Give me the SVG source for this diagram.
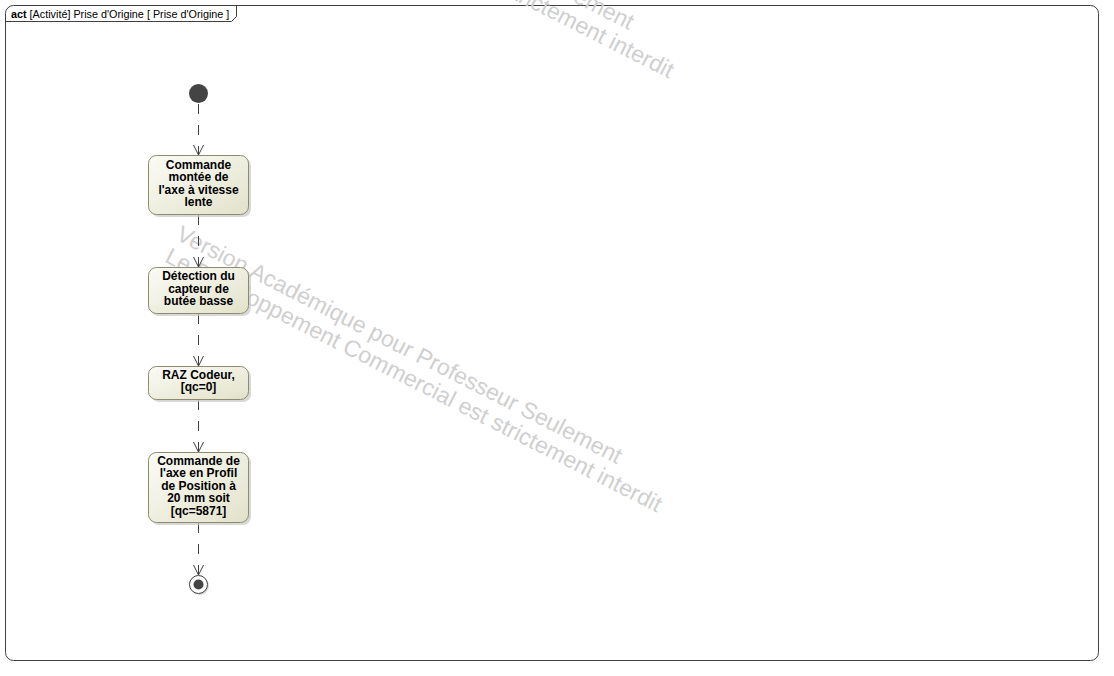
<svg xmlns="http://www.w3.org/2000/svg" width="1114" height="676" viewBox="0 0 1114 676">
<style>
  .frame{fill:#ffffff;stroke:#404040;stroke-width:1}
  .tabtxt{font-family:"Liberation Sans",Arial,sans-serif;font-size:10.8px;fill:#000}
  .wm{font-family:"Liberation Sans",Arial,sans-serif;font-size:23px;fill:#cfcfcf}
  .box{fill:url(#g);stroke:#8c8c6c;stroke-width:1}
  .shadow{fill:#c8c8c8;opacity:0.7}
  .lbl{font-family:"Liberation Sans",Arial,sans-serif;font-size:12px;font-weight:bold;fill:#000;text-anchor:middle}
  .edge{fill:none;stroke:#404040;stroke-width:1;stroke-dasharray:10 11}
</style>
<defs>
  <linearGradient id="g" x1="0" y1="0" x2="1" y2="1">
    <stop offset="0" stop-color="#fbfbf6"/>
    <stop offset="1" stop-color="#e2e2ca"/>
  </linearGradient>
  <marker id="arr" markerWidth="12" markerHeight="12" refX="10" refY="5" orient="auto" markerUnits="userSpaceOnUse">
    <path d="M0,0 L10,5 L0,10" fill="none" stroke="#404040" stroke-width="1"/>
  </marker>
</defs>
<rect x="0" y="0" width="1114" height="676" fill="#ffffff"/>
<rect class="frame" x="5.5" y="5.5" width="1093" height="655" rx="8" ry="8"/>
<path d="M5.5,21.5 L231.5,21.5 L236.5,16.5 L236.5,5.5" fill="none" stroke="#404040"/>
<text class="tabtxt" x="11" y="18"><tspan font-weight="bold">act</tspan> [Activité] Prise d'Origine [ Prise d'Origine ]</text>

<g id="watermark">
  <g transform="translate(175,239) rotate(27)">
    <text class="wm" x="0" y="0">Version Académique pour Professeur Seulement</text>
    <text class="wm" x="0" y="25">Le Développement Commercial est strictement interdit</text>
  </g>
  <g transform="translate(187,-195) rotate(27)">
    <text class="wm" x="0" y="0">Version Académique pour Professeur Seulement</text>
    <text class="wm" x="0" y="25">Le Développement Commercial est strictement interdit</text>
  </g>
</g>

<g id="connectors">
  <line class="edge" x1="198.5" y1="104" x2="198.5" y2="155" marker-end="url(#arr)"/>
  <line class="edge" x1="198.5" y1="215" x2="198.5" y2="267" marker-end="url(#arr)"/>
  <line class="edge" x1="198.5" y1="314" x2="198.5" y2="366" marker-end="url(#arr)"/>
  <line class="edge" x1="198.5" y1="400" x2="198.5" y2="452" marker-end="url(#arr)"/>
  <line class="edge" x1="198.5" y1="523" x2="198.5" y2="575" marker-end="url(#arr)"/>
</g>

<g id="initial">
  <circle cx="198.5" cy="93.5" r="9.5" fill="#444444"/>
</g>

<g id="n1">
  <rect class="shadow" x="151" y="158" width="100" height="59" rx="8"/>
  <rect class="box" x="148.5" y="155.5" width="100" height="59" rx="8"/>
  <text class="lbl" x="198.5" y="168.5">Commande</text>
  <text class="lbl" x="198.5" y="181">montée de</text>
  <text class="lbl" x="198.5" y="193.5">l'axe à vitesse</text>
  <text class="lbl" x="198.5" y="206">lente</text>
</g>

<g id="n2">
  <rect class="shadow" x="151" y="270" width="100" height="46" rx="8"/>
  <rect class="box" x="148.5" y="267.5" width="100" height="46" rx="8"/>
  <text class="lbl" x="198.5" y="280">Détection du</text>
  <text class="lbl" x="198.5" y="292.5">capteur de</text>
  <text class="lbl" x="198.5" y="305">butée basse</text>
</g>

<g id="n3">
  <rect class="shadow" x="151" y="369" width="100" height="33" rx="8"/>
  <rect class="box" x="148.5" y="366.5" width="100" height="33" rx="8"/>
  <text class="lbl" x="198.5" y="378.5">RAZ Codeur,</text>
  <text class="lbl" x="198.5" y="391">[qc=0]</text>
</g>

<g id="n4">
  <rect class="shadow" x="151" y="455" width="100" height="70" rx="8"/>
  <rect class="box" x="148.5" y="452.5" width="100" height="70" rx="8"/>
  <text class="lbl" x="198.5" y="464.5">Commande de</text>
  <text class="lbl" x="198.5" y="477">l'axe en Profil</text>
  <text class="lbl" x="198.5" y="489.5">de Position à</text>
  <text class="lbl" x="198.5" y="502">20 mm soit</text>
  <text class="lbl" x="198.5" y="514.5">[qc=5871]</text>
</g>

<g id="final">
  <circle cx="200" cy="586" r="9" fill="#d8d8d8"/>
  <circle cx="198.5" cy="584.5" r="9" fill="#ffffff" stroke="#404040" stroke-width="1"/>
  <circle cx="198.5" cy="584.5" r="5" fill="#444444"/>
</g>
</svg>
